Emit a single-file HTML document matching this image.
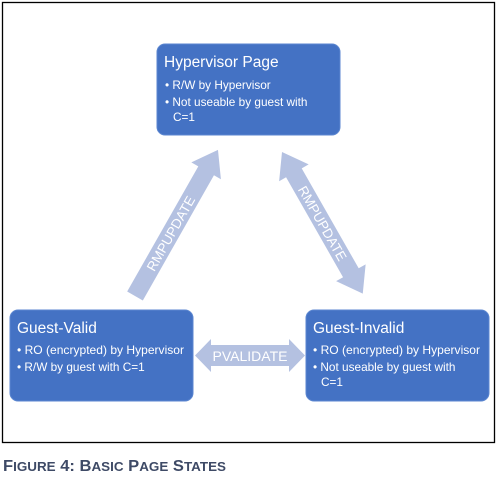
<!DOCTYPE html>
<html><head><style>
body{margin:0;background:#fff;width:497px;height:479px;overflow:hidden;font-family:"Liberation Sans",sans-serif}
</style></head><body>
<svg width="497" height="479" xmlns="http://www.w3.org/2000/svg" style="position:absolute;left:0;top:0">
<rect x="2.5" y="2.5" width="492" height="440" fill="#fff" stroke="#000" stroke-width="1.3"/>
<rect x="157" y="44" width="183" height="91" rx="8" fill="#4472C4" stroke="#5b86d0"/>
<rect x="10" y="310" width="183" height="91" rx="8" fill="#4472C4" stroke="#5b86d0"/>
<rect x="306" y="310" width="183" height="91" rx="8" fill="#4472C4" stroke="#5b86d0"/>
<g fill="#fff" font-family="Liberation Sans, sans-serif">
<text x="164" y="67" font-size="15.5">Hypervisor Page</text>
<text x="165" y="89" font-size="11.8">• R/W by Hypervisor</text>
<text x="165" y="106" font-size="11.8">• Not useable by guest with</text>
<text x="173" y="121" font-size="11.8">C=1</text>
<text x="17" y="333" font-size="15.5">Guest-Valid</text>
<text x="17" y="354" font-size="11.8" textLength="167" lengthAdjust="spacingAndGlyphs">• RO (encrypted) by Hypervisor</text>
<text x="17" y="371" font-size="11.8">• R/W by guest with C=1</text>
<text x="313" y="333" font-size="15.5">Guest-Invalid</text>
<text x="313" y="354" font-size="11.8" textLength="167" lengthAdjust="spacingAndGlyphs">• RO (encrypted) by Hypervisor</text>
<text x="313" y="371" font-size="11.8">• Not useable by guest with</text>
<text x="321" y="386" font-size="11.8">C=1</text>
</g>
<g transform="translate(135,296) rotate(-60.4)">
<polygon points="0,-9 144,-9 144,-17 168,0 144,17 144,9 0,9" fill="#B4C1E1"/>
<text x="72" y="5" font-size="13.5" fill="#fff" text-anchor="middle">RMPUPDATE</text>
</g>
<g transform="translate(282,152) rotate(60.3)">
<polygon points="0,0 24,-17 24,-9 139,-9 139,-17 163,0 139,17 139,9 24,9 24,17" fill="#B4C1E1"/>
<text x="82" y="5" font-size="13.5" fill="#fff" text-anchor="middle">RMPUPDATE</text>
</g>
<polygon points="195,355.5 211,339 211,345 289,345 289,339 305,355.5 289,372 289,366 211,366 211,372" fill="#B4C1E1"/>
<text x="250" y="361" font-size="14" fill="#fff" text-anchor="middle">PVALIDATE</text>
<text x="3" y="471" font-size="16" font-weight="bold" fill="#3E4A66" textLength="223" lengthAdjust="spacingAndGlyphs">F<tspan font-size="13">IGURE</tspan> 4: B<tspan font-size="13">ASIC</tspan> P<tspan font-size="13">AGE</tspan> S<tspan font-size="13">TATES</tspan></text>
</svg>
</body></html>
